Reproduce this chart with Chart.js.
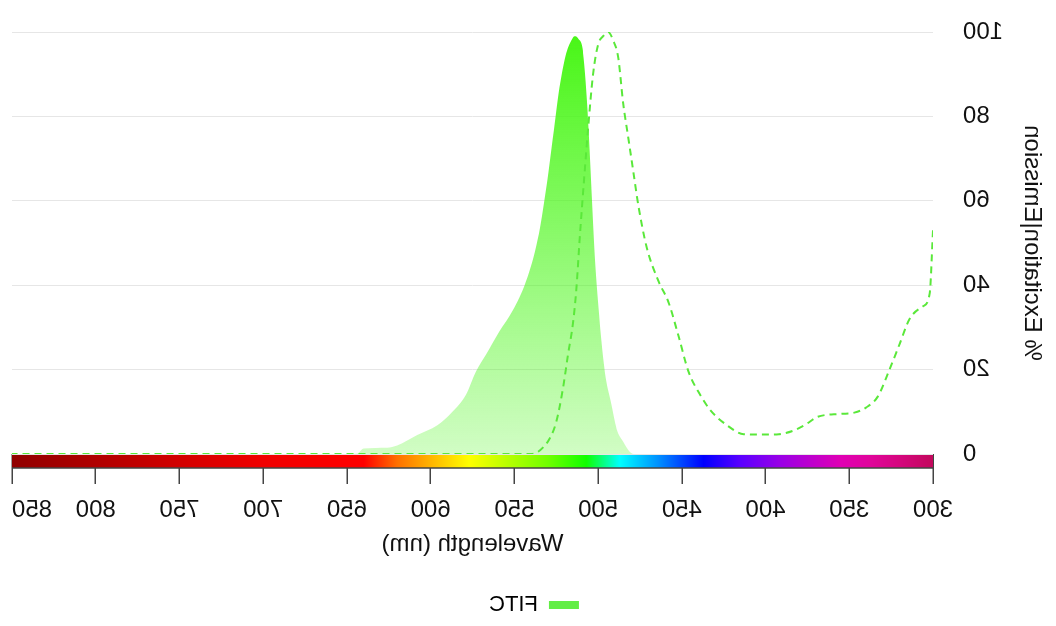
<!DOCTYPE html>
<html>
<head>
<meta charset="utf-8">
<script src="https://cdn.jsdelivr.net/npm/chart.js@4.4.1/dist/chart.umd.min.js"></script>
<style>
    html, body { margin: 0; padding: 0; background: #fff; }
    #wrap { width: 1056px; height: 626px; }
    /* the reference is mirrored left-to-right */
    #chart { transform: scaleX(-1); }
</style>
</head>
<body>
<div id="wrap"><canvas id="chart"></canvas></div>
<script>
// Excitation spectrum (dashed line)
const exWavelengths = [300, 302, 306, 314, 320, 326, 333, 340, 347, 355, 369, 376, 383, 392, 400, 413, 423, 433, 439, 446, 452, 458, 464, 471, 476, 479, 482, 485, 488, 491, 494, 497, 500, 503, 506, 508, 511, 513, 515, 518, 521, 525, 529, 533, 536, 540, 600, 700, 850];
const exValues = [53, 38, 35, 32, 26, 20, 13.6, 11, 9.8, 9.5, 8.8, 7, 5.6, 4.7, 4.6, 4.7, 6.8, 10.4, 14, 19.5, 28, 36, 41, 49, 59, 67, 75, 83, 94, 98, 100, 99, 97, 90, 77, 67, 51, 39, 31, 23.5, 15.5, 7.6, 3.6, 1.5, 0.5, 0, 0, 0, 0];

// Emission spectrum (filled area)
const emWavelengths = [300, 478, 481, 485, 489, 492, 496, 499, 502, 504, 506, 509, 512, 514, 516, 519, 523, 527, 531, 536, 543, 551, 559, 567, 573, 579, 587, 596, 608, 620, 626, 640, 644, 650, 850];
const emValues = [0, 0, 0.5, 2.9, 6, 11.6, 19.5, 31, 47, 63, 79, 95, 98.5, 99, 98, 95, 87, 75, 63, 51, 41, 34, 29, 23.5, 19.5, 14, 10, 6.8, 4.5, 2, 1.5, 1.3, 0.1, 0, 0];

// Wavelength ticks and the colour bar under the axis
const xTicks = [300, 350, 400, 450, 500, 550, 600, 650, 700, 750, 800, 850];
const yTicks = [0, 20, 40, 60, 80, 100];
const spectrumWavelengths = [300, 320, 337, 355, 391, 415, 437, 464, 487, 507, 530, 554, 577, 600, 620, 640, 700, 750, 800, 850];
const spectrumColors = ['#c2085c', '#d5067e', '#e0059a', '#e000b4', '#9a00e6', '#5a00ff', '#0000ff', '#0090ff', '#00ffff', '#10ff00', '#70ff00', '#b8ff00', '#ffff00', '#ffb400', '#ff7000', '#ff0000', '#f00000', '#d20000', '#b00000', '#900000'];

const FONT = '"Liberation Sans", Arial, sans-serif';

const toPoints = (xs, ys) => xs.map((x, i) => ({ x: x, y: ys[i] }));

// Draw the visible-spectrum strip between the plot and the tick marks
const spectrumBar = {
    id: 'spectrumBar',
    afterDraw(chart) {
        const { ctx, chartArea } = chart;
        const x = chart.scales.x;
        const left = x.getPixelForValue(300);
        const right = x.getPixelForValue(850);
        const top = chartArea.bottom + 1;
        const h = 13;

        const grad = ctx.createLinearGradient(left, 0, right, 0);
        spectrumWavelengths.forEach((wl, i) => {
            grad.addColorStop((wl - 300) / 550, spectrumColors[i]);
        });

        ctx.save();
        ctx.fillStyle = grad;
        ctx.fillRect(left, top, right - left, h);
        ctx.strokeStyle = '#444';
        ctx.lineWidth = 1.5;
        ctx.beginPath();
        ctx.moveTo(left, top + h);
        ctx.lineTo(right, top + h);
        ctx.stroke();
        ctx.restore();
    }
};

const ctx = document.getElementById('chart').getContext('2d');

new Chart(ctx, {
    type: 'line',
    data: {
        datasets: [
            {
                label: 'FITC',
                data: toPoints(emWavelengths, emValues),
                borderWidth: 0,
                borderColor: 'rgba(0,0,0,0)',
                backgroundColor: (context) => {
                    const area = context.chart.chartArea;
                    if (!area) return 'rgba(72, 246, 22, 0.6)';
                    const g = context.chart.ctx.createLinearGradient(0, area.top, 0, area.bottom);
                    g.addColorStop(0, 'rgba(72, 246, 22, 1)');
                    g.addColorStop(1, 'rgba(72, 246, 22, 0.25)');
                    return g;
                },
                fill: 'origin',
                pointRadius: 0,
                cubicInterpolationMode: 'monotone',
                order: 2
            },
            {
                label: 'FITC excitation',
                data: toPoints(exWavelengths, exValues),
                borderColor: '#5ae83a',
                borderWidth: 2,
                borderDash: [7, 5],
                fill: false,
                pointRadius: 0,
                cubicInterpolationMode: 'monotone',
                order: 1
            }
        ]
    },
    options: {
        responsive: true,
        maintainAspectRatio: false,
        animation: false,
        layout: {
            padding: { top: 32, right: 12, left: 0, bottom: 0 }
        },
        plugins: {
            tooltip: { enabled: false },
            legend: {
                position: 'bottom',
                labels: {
                    font: { family: FONT, size: 22 },
                    color: '#111',
                    boxWidth: 30,
                    boxHeight: 8,
                    padding: 10,
                    generateLabels: () => [{
                        text: 'FITC',
                        fillStyle: '#62ee45',
                        strokeStyle: 'rgba(0,0,0,0)',
                        lineWidth: 0,
                        datasetIndex: 0
                    }]
                }
            }
        },
        scales: {
            x: {
                type: 'linear',
                min: 300,
                max: 850,
                afterBuildTicks: (scale) => {
                    scale.ticks = xTicks.map(v => ({ value: v }));
                },
                ticks: {
                    font: { family: FONT, size: 24 },
                    color: '#111',
                    padding: 12,
                    autoSkip: false,
                    minRotation: 0,
                    maxRotation: 0,
                    // last label sits inside the axis end, like the reference
                    callback: (v) => v === 850 ? '850\u2007\u2007\u2007' : String(v)
                },
                grid: {
                    drawOnChartArea: false,
                    drawTicks: true,
                    tickLength: 30,
                    color: '#444',
                    lineWidth: 1.5
                },
                border: { display: false },
                title: {
                    display: true,
                    text: 'Wavelength (nm)',
                    font: { family: FONT, size: 24 },
                    color: '#111',
                    padding: { top: 4, bottom: 25 }
                },
                afterFit: (scale) => {
                    scale.height = 130;
                    scale.paddingLeft = 0;
                    scale.paddingRight = 0;
                }
            },
            y: {
                min: 0,
                max: 100,
                afterBuildTicks: (scale) => {
                    scale.ticks = yTicks.map(v => ({ value: v }));
                },
                ticks: {
                    font: { family: FONT, size: 24 },
                    color: '#111',
                    padding: 30
                },
                grid: {
                    color: '#e6e6e6',
                    lineWidth: 1,
                    drawTicks: false
                },
                border: { display: false },
                title: {
                    display: true,
                    text: '% Excitation|Emission',
                    font: { family: FONT, size: 24 },
                    color: '#111',
                    padding: { top: 10, bottom: 0 }
                },
                afterFit: (scale) => {
                    scale.width = 123;
                    scale.paddingTop = 0;
                    scale.paddingBottom = 0;
                }
            }
        }
    },
    plugins: [spectrumBar]
});
</script>
</body>
</html>
